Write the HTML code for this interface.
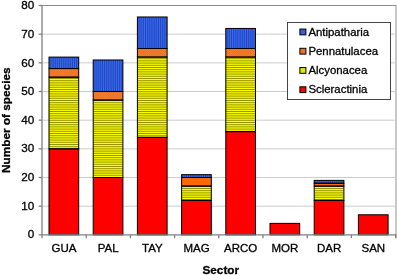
<!DOCTYPE html>
<html><head><meta charset="utf-8"><title>Number of species by sector</title>
<style>
html,body{margin:0;padding:0;background:#fff;}
svg{display:block;font-family:"Liberation Sans",Arial,sans-serif;}
text{fill:#000;stroke:#000;stroke-width:0.3px;}
</style></head><body>
<svg width="397" height="275" viewBox="0 0 397 275">
<rect width="397" height="275" fill="#fff"/>

<line x1="42.0" x2="395.6" y1="206.18" y2="206.18" stroke="#cccccc" stroke-width="1"/>
<line x1="42.0" x2="395.6" y1="177.51" y2="177.51" stroke="#cccccc" stroke-width="1"/>
<line x1="42.0" x2="395.6" y1="148.84" y2="148.84" stroke="#cccccc" stroke-width="1"/>
<line x1="42.0" x2="395.6" y1="120.17" y2="120.17" stroke="#cccccc" stroke-width="1"/>
<line x1="42.0" x2="395.6" y1="91.51" y2="91.51" stroke="#cccccc" stroke-width="1"/>
<line x1="42.0" x2="395.6" y1="62.84" y2="62.84" stroke="#cccccc" stroke-width="1"/>
<line x1="42.0" x2="395.6" y1="34.17" y2="34.17" stroke="#cccccc" stroke-width="1"/>
<line x1="42.0" x2="396.3" y1="5.5" y2="5.5" stroke="#8c8c8c" stroke-width="1"/>
<rect x="395" y="6.0" width="2" height="232.15" fill="#c8c8c8"/>
<clipPath id="c1"><rect x="49.00" y="77.17" width="29.7" height="71.67"/><rect x="93.20" y="100.11" width="29.7" height="77.41"/><rect x="137.40" y="57.10" width="29.7" height="80.27"/><rect x="181.60" y="186.11" width="29.7" height="14.33"/><rect x="225.80" y="57.10" width="29.7" height="74.54"/><rect x="314.20" y="186.11" width="29.7" height="14.33"/></clipPath>
<clipPath id="c2"><rect x="49.00" y="68.57" width="29.7" height="8.60"/><rect x="93.20" y="91.51" width="29.7" height="8.60"/><rect x="137.40" y="48.50" width="29.7" height="8.60"/><rect x="181.60" y="177.51" width="29.7" height="8.60"/><rect x="225.80" y="48.50" width="29.7" height="8.60"/><rect x="314.20" y="183.25" width="29.7" height="2.87"/></clipPath>
<clipPath id="c3"><rect x="49.00" y="57.10" width="29.7" height="11.47"/><rect x="93.20" y="59.97" width="29.7" height="31.54"/><rect x="137.40" y="16.97" width="29.7" height="31.54"/><rect x="181.60" y="174.65" width="29.7" height="2.87"/><rect x="225.80" y="28.44" width="29.7" height="20.07"/><rect x="314.20" y="180.38" width="29.7" height="2.87"/></clipPath>
<g clip-path="url(#c1)"><rect x="42.0" y="5.5" width="353.6" height="229.35" fill="#ffff00"/>
<path d="M42.0 5.90H395.6M42.0 8.10H395.6M42.0 10.30H395.6M42.0 12.50H395.6M42.0 14.70H395.6M42.0 16.90H395.6M42.0 19.10H395.6M42.0 21.30H395.6M42.0 23.50H395.6M42.0 25.70H395.6M42.0 27.90H395.6M42.0 30.10H395.6M42.0 32.30H395.6M42.0 34.50H395.6M42.0 36.70H395.6M42.0 38.90H395.6M42.0 41.10H395.6M42.0 43.30H395.6M42.0 45.50H395.6M42.0 47.70H395.6M42.0 49.90H395.6M42.0 52.10H395.6M42.0 54.30H395.6M42.0 56.50H395.6M42.0 58.70H395.6M42.0 60.90H395.6M42.0 63.10H395.6M42.0 65.30H395.6M42.0 67.50H395.6M42.0 69.70H395.6M42.0 71.90H395.6M42.0 74.10H395.6M42.0 76.30H395.6M42.0 78.50H395.6M42.0 80.70H395.6M42.0 82.90H395.6M42.0 85.10H395.6M42.0 87.30H395.6M42.0 89.50H395.6M42.0 91.70H395.6M42.0 93.90H395.6M42.0 96.10H395.6M42.0 98.30H395.6M42.0 100.50H395.6M42.0 102.70H395.6M42.0 104.90H395.6M42.0 107.10H395.6M42.0 109.30H395.6M42.0 111.50H395.6M42.0 113.70H395.6M42.0 115.90H395.6M42.0 118.10H395.6M42.0 120.30H395.6M42.0 122.50H395.6M42.0 124.70H395.6M42.0 126.90H395.6M42.0 129.10H395.6M42.0 131.30H395.6M42.0 133.50H395.6M42.0 135.70H395.6M42.0 137.90H395.6M42.0 140.10H395.6M42.0 142.30H395.6M42.0 144.50H395.6M42.0 146.70H395.6M42.0 148.90H395.6M42.0 151.10H395.6M42.0 153.30H395.6M42.0 155.50H395.6M42.0 157.70H395.6M42.0 159.90H395.6M42.0 162.10H395.6M42.0 164.30H395.6M42.0 166.50H395.6M42.0 168.70H395.6M42.0 170.90H395.6M42.0 173.10H395.6M42.0 175.30H395.6M42.0 177.50H395.6M42.0 179.70H395.6M42.0 181.90H395.6M42.0 184.10H395.6M42.0 186.30H395.6M42.0 188.50H395.6M42.0 190.70H395.6M42.0 192.90H395.6M42.0 195.10H395.6M42.0 197.30H395.6M42.0 199.50H395.6M42.0 201.70H395.6M42.0 203.90H395.6M42.0 206.10H395.6M42.0 208.30H395.6M42.0 210.50H395.6M42.0 212.70H395.6M42.0 214.90H395.6M42.0 217.10H395.6M42.0 219.30H395.6M42.0 221.50H395.6M42.0 223.70H395.6M42.0 225.90H395.6M42.0 228.10H395.6M42.0 230.30H395.6M42.0 232.50H395.6M42.0 234.70H395.6" stroke="#707000" stroke-width="0.75" fill="none"/></g>
<g clip-path="url(#c3)"><rect x="42.0" y="5.5" width="353.6" height="229.35" fill="#3569f4"/>
<path d="M42.30 5.5V234.85M44.45 5.5V234.85M46.60 5.5V234.85M48.75 5.5V234.85M50.90 5.5V234.85M53.05 5.5V234.85M55.20 5.5V234.85M57.35 5.5V234.85M59.50 5.5V234.85M61.65 5.5V234.85M63.80 5.5V234.85M65.95 5.5V234.85M68.10 5.5V234.85M70.25 5.5V234.85M72.40 5.5V234.85M74.55 5.5V234.85M76.70 5.5V234.85M78.85 5.5V234.85M81.00 5.5V234.85M83.15 5.5V234.85M85.30 5.5V234.85M87.45 5.5V234.85M89.60 5.5V234.85M91.75 5.5V234.85M93.90 5.5V234.85M96.05 5.5V234.85M98.20 5.5V234.85M100.35 5.5V234.85M102.50 5.5V234.85M104.65 5.5V234.85M106.80 5.5V234.85M108.95 5.5V234.85M111.10 5.5V234.85M113.25 5.5V234.85M115.40 5.5V234.85M117.55 5.5V234.85M119.70 5.5V234.85M121.85 5.5V234.85M124.00 5.5V234.85M126.15 5.5V234.85M128.30 5.5V234.85M130.45 5.5V234.85M132.60 5.5V234.85M134.75 5.5V234.85M136.90 5.5V234.85M139.05 5.5V234.85M141.20 5.5V234.85M143.35 5.5V234.85M145.50 5.5V234.85M147.65 5.5V234.85M149.80 5.5V234.85M151.95 5.5V234.85M154.10 5.5V234.85M156.25 5.5V234.85M158.40 5.5V234.85M160.55 5.5V234.85M162.70 5.5V234.85M164.85 5.5V234.85M167.00 5.5V234.85M169.15 5.5V234.85M171.30 5.5V234.85M173.45 5.5V234.85M175.60 5.5V234.85M177.75 5.5V234.85M179.90 5.5V234.85M182.05 5.5V234.85M184.20 5.5V234.85M186.35 5.5V234.85M188.50 5.5V234.85M190.65 5.5V234.85M192.80 5.5V234.85M194.95 5.5V234.85M197.10 5.5V234.85M199.25 5.5V234.85M201.40 5.5V234.85M203.55 5.5V234.85M205.70 5.5V234.85M207.85 5.5V234.85M210.00 5.5V234.85M212.15 5.5V234.85M214.30 5.5V234.85M216.45 5.5V234.85M218.60 5.5V234.85M220.75 5.5V234.85M222.90 5.5V234.85M225.05 5.5V234.85M227.20 5.5V234.85M229.35 5.5V234.85M231.50 5.5V234.85M233.65 5.5V234.85M235.80 5.5V234.85M237.95 5.5V234.85M240.10 5.5V234.85M242.25 5.5V234.85M244.40 5.5V234.85M246.55 5.5V234.85M248.70 5.5V234.85M250.85 5.5V234.85M253.00 5.5V234.85M255.15 5.5V234.85M257.30 5.5V234.85M259.45 5.5V234.85M261.60 5.5V234.85M263.75 5.5V234.85M265.90 5.5V234.85M268.05 5.5V234.85M270.20 5.5V234.85M272.35 5.5V234.85M274.50 5.5V234.85M276.65 5.5V234.85M278.80 5.5V234.85M280.95 5.5V234.85M283.10 5.5V234.85M285.25 5.5V234.85M287.40 5.5V234.85M289.55 5.5V234.85M291.70 5.5V234.85M293.85 5.5V234.85M296.00 5.5V234.85M298.15 5.5V234.85M300.30 5.5V234.85M302.45 5.5V234.85M304.60 5.5V234.85M306.75 5.5V234.85M308.90 5.5V234.85M311.05 5.5V234.85M313.20 5.5V234.85M315.35 5.5V234.85M317.50 5.5V234.85M319.65 5.5V234.85M321.80 5.5V234.85M323.95 5.5V234.85M326.10 5.5V234.85M328.25 5.5V234.85M330.40 5.5V234.85M332.55 5.5V234.85M334.70 5.5V234.85M336.85 5.5V234.85M339.00 5.5V234.85M341.15 5.5V234.85M343.30 5.5V234.85M345.45 5.5V234.85M347.60 5.5V234.85M349.75 5.5V234.85M351.90 5.5V234.85M354.05 5.5V234.85M356.20 5.5V234.85M358.35 5.5V234.85M360.50 5.5V234.85M362.65 5.5V234.85M364.80 5.5V234.85M366.95 5.5V234.85M369.10 5.5V234.85M371.25 5.5V234.85M373.40 5.5V234.85M375.55 5.5V234.85M377.70 5.5V234.85M379.85 5.5V234.85M382.00 5.5V234.85M384.15 5.5V234.85M386.30 5.5V234.85M388.45 5.5V234.85M390.60 5.5V234.85M392.75 5.5V234.85M394.90 5.5V234.85" stroke="#1c389c" stroke-width="0.7" fill="none"/></g>
<g clip-path="url(#c2)"><rect x="42.0" y="5.5" width="353.6" height="229.35" fill="#ff6804"/>
<path d="M42.0 5.50H395.6M42.0 7.60H395.6M42.0 9.70H395.6M42.0 11.80H395.6M42.0 13.90H395.6M42.0 16.00H395.6M42.0 18.10H395.6M42.0 20.20H395.6M42.0 22.30H395.6M42.0 24.40H395.6M42.0 26.50H395.6M42.0 28.60H395.6M42.0 30.70H395.6M42.0 32.80H395.6M42.0 34.90H395.6M42.0 37.00H395.6M42.0 39.10H395.6M42.0 41.20H395.6M42.0 43.30H395.6M42.0 45.40H395.6M42.0 47.50H395.6M42.0 49.60H395.6M42.0 51.70H395.6M42.0 53.80H395.6M42.0 55.90H395.6M42.0 58.00H395.6M42.0 60.10H395.6M42.0 62.20H395.6M42.0 64.30H395.6M42.0 66.40H395.6M42.0 68.50H395.6M42.0 70.60H395.6M42.0 72.70H395.6M42.0 74.80H395.6M42.0 76.90H395.6M42.0 79.00H395.6M42.0 81.10H395.6M42.0 83.20H395.6M42.0 85.30H395.6M42.0 87.40H395.6M42.0 89.50H395.6M42.0 91.60H395.6M42.0 93.70H395.6M42.0 95.80H395.6M42.0 97.90H395.6M42.0 100.00H395.6M42.0 102.10H395.6M42.0 104.20H395.6M42.0 106.30H395.6M42.0 108.40H395.6M42.0 110.50H395.6M42.0 112.60H395.6M42.0 114.70H395.6M42.0 116.80H395.6M42.0 118.90H395.6M42.0 121.00H395.6M42.0 123.10H395.6M42.0 125.20H395.6M42.0 127.30H395.6M42.0 129.40H395.6M42.0 131.50H395.6M42.0 133.60H395.6M42.0 135.70H395.6M42.0 137.80H395.6M42.0 139.90H395.6M42.0 142.00H395.6M42.0 144.10H395.6M42.0 146.20H395.6M42.0 148.30H395.6M42.0 150.40H395.6M42.0 152.50H395.6M42.0 154.60H395.6M42.0 156.70H395.6M42.0 158.80H395.6M42.0 160.90H395.6M42.0 163.00H395.6M42.0 165.10H395.6M42.0 167.20H395.6M42.0 169.30H395.6M42.0 171.40H395.6M42.0 173.50H395.6" stroke="#dc8c58" stroke-width="1.05" stroke-dasharray="1.05 1.05" fill="none"/>
<path d="M42.0 6.55H395.6M42.0 8.65H395.6M42.0 10.75H395.6M42.0 12.85H395.6M42.0 14.95H395.6M42.0 17.05H395.6M42.0 19.15H395.6M42.0 21.25H395.6M42.0 23.35H395.6M42.0 25.45H395.6M42.0 27.55H395.6M42.0 29.65H395.6M42.0 31.75H395.6M42.0 33.85H395.6M42.0 35.95H395.6M42.0 38.05H395.6M42.0 40.15H395.6M42.0 42.25H395.6M42.0 44.35H395.6M42.0 46.45H395.6M42.0 48.55H395.6M42.0 50.65H395.6M42.0 52.75H395.6M42.0 54.85H395.6M42.0 56.95H395.6M42.0 59.05H395.6M42.0 61.15H395.6M42.0 63.25H395.6M42.0 65.35H395.6M42.0 67.45H395.6M42.0 69.55H395.6M42.0 71.65H395.6M42.0 73.75H395.6M42.0 75.85H395.6M42.0 77.95H395.6M42.0 80.05H395.6M42.0 82.15H395.6M42.0 84.25H395.6M42.0 86.35H395.6M42.0 88.45H395.6M42.0 90.55H395.6M42.0 92.65H395.6M42.0 94.75H395.6M42.0 96.85H395.6M42.0 98.95H395.6M42.0 101.05H395.6M42.0 103.15H395.6M42.0 105.25H395.6M42.0 107.35H395.6M42.0 109.45H395.6M42.0 111.55H395.6M42.0 113.65H395.6M42.0 115.75H395.6M42.0 117.85H395.6M42.0 119.95H395.6M42.0 122.05H395.6M42.0 124.15H395.6M42.0 126.25H395.6M42.0 128.35H395.6M42.0 130.45H395.6M42.0 132.55H395.6M42.0 134.65H395.6M42.0 136.75H395.6M42.0 138.85H395.6M42.0 140.95H395.6M42.0 143.05H395.6M42.0 145.15H395.6M42.0 147.25H395.6M42.0 149.35H395.6M42.0 151.45H395.6M42.0 153.55H395.6M42.0 155.65H395.6M42.0 157.75H395.6M42.0 159.85H395.6M42.0 161.95H395.6M42.0 164.05H395.6M42.0 166.15H395.6M42.0 168.25H395.6M42.0 170.35H395.6M42.0 172.45H395.6M42.0 174.55H395.6" stroke="#dc8c58" stroke-width="1.05" stroke-dasharray="1.05 1.05" stroke-dashoffset="1.05" fill="none"/></g>
<rect x="49.00" y="148.84" width="29.7" height="86.01" fill="#ff0000" stroke="#000" stroke-width="1"/>
<rect x="49.00" y="77.17" width="29.7" height="71.67" fill="none" stroke="#000" stroke-width="1"/>
<rect x="49.00" y="68.57" width="29.7" height="8.60" fill="none" stroke="#000" stroke-width="1"/>
<rect x="49.00" y="57.10" width="29.7" height="11.47" fill="none" stroke="#000" stroke-width="1"/>
<rect x="93.20" y="177.51" width="29.7" height="57.34" fill="#ff0000" stroke="#000" stroke-width="1"/>
<rect x="93.20" y="100.11" width="29.7" height="77.41" fill="none" stroke="#000" stroke-width="1"/>
<rect x="93.20" y="91.51" width="29.7" height="8.60" fill="none" stroke="#000" stroke-width="1"/>
<rect x="93.20" y="59.97" width="29.7" height="31.54" fill="none" stroke="#000" stroke-width="1"/>
<rect x="137.40" y="137.38" width="29.7" height="97.47" fill="#ff0000" stroke="#000" stroke-width="1"/>
<rect x="137.40" y="57.10" width="29.7" height="80.27" fill="none" stroke="#000" stroke-width="1"/>
<rect x="137.40" y="48.50" width="29.7" height="8.60" fill="none" stroke="#000" stroke-width="1"/>
<rect x="137.40" y="16.97" width="29.7" height="31.54" fill="none" stroke="#000" stroke-width="1"/>
<rect x="181.60" y="200.45" width="29.7" height="34.40" fill="#ff0000" stroke="#000" stroke-width="1"/>
<rect x="181.60" y="186.11" width="29.7" height="14.33" fill="none" stroke="#000" stroke-width="1"/>
<rect x="181.60" y="177.51" width="29.7" height="8.60" fill="none" stroke="#000" stroke-width="1"/>
<rect x="181.60" y="174.65" width="29.7" height="2.87" fill="none" stroke="#000" stroke-width="1"/>
<rect x="225.80" y="131.64" width="29.7" height="103.21" fill="#ff0000" stroke="#000" stroke-width="1"/>
<rect x="225.80" y="57.10" width="29.7" height="74.54" fill="none" stroke="#000" stroke-width="1"/>
<rect x="225.80" y="48.50" width="29.7" height="8.60" fill="none" stroke="#000" stroke-width="1"/>
<rect x="225.80" y="28.44" width="29.7" height="20.07" fill="none" stroke="#000" stroke-width="1"/>
<rect x="270.00" y="223.38" width="29.7" height="11.47" fill="#ff0000" stroke="#000" stroke-width="1"/>
<rect x="314.20" y="200.45" width="29.7" height="34.40" fill="#ff0000" stroke="#000" stroke-width="1"/>
<rect x="314.20" y="186.11" width="29.7" height="14.33" fill="none" stroke="#000" stroke-width="1"/>
<rect x="314.20" y="183.25" width="29.7" height="2.87" fill="none" stroke="#000" stroke-width="1"/>
<rect x="314.20" y="180.38" width="29.7" height="2.87" fill="none" stroke="#000" stroke-width="1"/>
<rect x="358.40" y="214.78" width="29.7" height="20.07" fill="#ff0000" stroke="#000" stroke-width="1"/>
<line x1="42.0" x2="42.0" y1="5.5" y2="238.15" stroke="#808080" stroke-width="1.3"/>
<line x1="38.7" x2="396.6" y1="234.85" y2="234.85" stroke="#808080" stroke-width="1.3"/>
<line x1="38.7" x2="42.0" y1="206.18" y2="206.18" stroke="#808080" stroke-width="1.3"/>
<line x1="38.7" x2="42.0" y1="177.51" y2="177.51" stroke="#808080" stroke-width="1.3"/>
<line x1="38.7" x2="42.0" y1="148.84" y2="148.84" stroke="#808080" stroke-width="1.3"/>
<line x1="38.7" x2="42.0" y1="120.17" y2="120.17" stroke="#808080" stroke-width="1.3"/>
<line x1="38.7" x2="42.0" y1="91.51" y2="91.51" stroke="#808080" stroke-width="1.3"/>
<line x1="38.7" x2="42.0" y1="62.84" y2="62.84" stroke="#808080" stroke-width="1.3"/>
<line x1="38.7" x2="42.0" y1="34.17" y2="34.17" stroke="#808080" stroke-width="1.3"/>
<line x1="38.7" x2="42.0" y1="5.50" y2="5.50" stroke="#808080" stroke-width="1.3"/>
<line x1="86.20" x2="86.20" y1="234.85" y2="238.15" stroke="#808080" stroke-width="1.3"/>
<line x1="130.40" x2="130.40" y1="234.85" y2="238.15" stroke="#808080" stroke-width="1.3"/>
<line x1="174.60" x2="174.60" y1="234.85" y2="238.15" stroke="#808080" stroke-width="1.3"/>
<line x1="218.80" x2="218.80" y1="234.85" y2="238.15" stroke="#808080" stroke-width="1.3"/>
<line x1="263.00" x2="263.00" y1="234.85" y2="238.15" stroke="#808080" stroke-width="1.3"/>
<line x1="307.20" x2="307.20" y1="234.85" y2="238.15" stroke="#808080" stroke-width="1.3"/>
<line x1="351.40" x2="351.40" y1="234.85" y2="238.15" stroke="#808080" stroke-width="1.3"/>
<line x1="395.60" x2="395.60" y1="234.85" y2="238.15" stroke="#808080" stroke-width="1.3"/>
<text transform="translate(34.20,238.00) scale(1.02,1)" font-size="11.5" text-anchor="end">0</text>
<text transform="translate(34.20,210.00) scale(1.02,1)" font-size="11.5" text-anchor="end">10</text>
<text transform="translate(34.20,181.00) scale(1.02,1)" font-size="11.5" text-anchor="end">20</text>
<text transform="translate(34.20,152.00) scale(1.02,1)" font-size="11.5" text-anchor="end">30</text>
<text transform="translate(34.20,124.00) scale(1.02,1)" font-size="11.5" text-anchor="end">40</text>
<text transform="translate(34.20,95.00) scale(1.02,1)" font-size="11.5" text-anchor="end">50</text>
<text transform="translate(34.20,67.00) scale(1.02,1)" font-size="11.5" text-anchor="end">60</text>
<text transform="translate(34.20,38.00) scale(1.02,1)" font-size="11.5" text-anchor="end">70</text>
<text transform="translate(34.20,9.00) scale(1.02,1)" font-size="11.5" text-anchor="end">80</text>
<text transform="translate(63.90,252.00)" font-size="11.5" text-anchor="middle">GUA</text>
<text transform="translate(108.10,252.00)" font-size="11.5" text-anchor="middle">PAL</text>
<text transform="translate(152.30,252.00)" font-size="11.5" text-anchor="middle">TAY</text>
<text transform="translate(196.50,252.00)" font-size="11.5" text-anchor="middle">MAG</text>
<text transform="translate(240.70,252.00)" font-size="11.5" text-anchor="middle">ARCO</text>
<text transform="translate(284.90,252.00)" font-size="11.5" text-anchor="middle">MOR</text>
<text transform="translate(329.10,252.00)" font-size="11.5" text-anchor="middle">DAR</text>
<text transform="translate(373.30,252.00)" font-size="11.5" text-anchor="middle">SAN</text>
<text transform="translate(220.80,274.00)" font-size="11.8" font-weight="bold" text-anchor="middle">Sector</text>
<text transform="translate(10.20,120.20) rotate(-90)" font-size="11.8" font-weight="bold" text-anchor="middle">Number of species</text>
<rect x="287.5" y="22.5" width="103" height="77" fill="#fff" stroke="#444" stroke-width="1"/>
<rect x="299.9" y="29.05" width="6" height="5.8" fill="#3461d8" stroke="#000" stroke-width="1"/>
<text transform="translate(308.40,36.00)" font-size="11.4">Antipatharia</text>
<rect x="299.9" y="48.30" width="6" height="5.8" fill="#f0702a" stroke="#000" stroke-width="1"/>
<text transform="translate(308.40,55.00)" font-size="11.4">Pennatulacea</text>
<rect x="299.9" y="67.55" width="6" height="5.8" fill="#e6e600" stroke="#000" stroke-width="1"/>
<text transform="translate(308.40,74.00)" font-size="11.4">Alcyonacea</text>
<rect x="299.9" y="86.80" width="6" height="5.8" fill="#ff0000" stroke="#000" stroke-width="1"/>
<text transform="translate(308.40,93.00)" font-size="11.4">Scleractinia</text>
</svg></body></html>
